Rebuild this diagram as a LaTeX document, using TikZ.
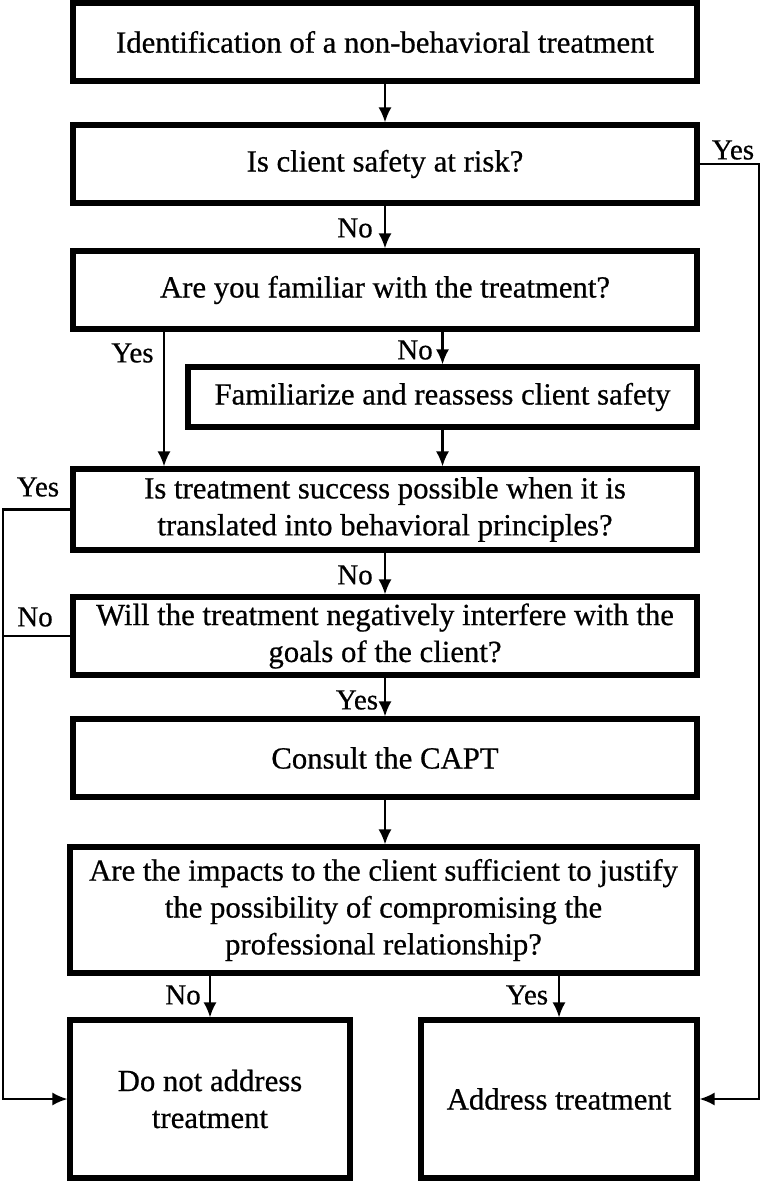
\documentclass[tikz,border=0pt]{standalone}
\usepackage{fontspec}
\setmainfont{Liberation Serif}[FakeBold=0.6]
\usetikzlibrary{arrows.meta}

\tikzset{
  stepbox/.style={draw, line width=2.9pt, inner sep=0pt, align=center,
    font=\fontsize{17.5}{21}\selectfont},
  flow/.style={line width=1.2pt, ->, >={Latex[length=0.3cm,width=0.26cm]}},
  answer/.style={font=\fontsize{16.5}{19}\selectfont}
}

\begin{document}
\begin{tikzpicture}
    \useasboundingbox (0,0) rectangle (15.24,-23.62);

    % Boxes
    \node[stepbox, minimum width=12.48cm, minimum height=1.56cm] (ident) at (7.70,-0.84) {Identification of a non-behavioral treatment};
    \node[stepbox, minimum width=12.48cm, minimum height=1.56cm] (safety) at (7.70,-3.28) {Is client safety at risk?};
    \node[stepbox, minimum width=12.48cm, minimum height=1.56cm] (familiar) at (7.70,-5.80) {Are you familiar with the treatment?};
    \node[stepbox, minimum width=10.18cm, minimum height=1.20cm] (reassess) at (8.85,-7.94) {Familiarize and reassess client safety};
    \node[stepbox, minimum width=12.48cm, minimum height=1.62cm] (success) at (7.70,-10.19) {Is treatment success possible when it is\\translated into behavioral principles?};
    \node[stepbox, minimum width=12.48cm, minimum height=1.56cm] (goals) at (7.70,-12.72) {Will the treatment negatively interfere with the\\goals of the client?};
    \node[stepbox, minimum width=12.48cm, minimum height=1.56cm] (capt) at (7.70,-15.16) {Consult the CAPT};
    \node[stepbox, minimum width=12.54cm, minimum height=2.52cm] (impacts) at (7.67,-18.20) {Are the impacts to the client sufficient to justify\\the possibility of compromising the\\professional relationship?};
    \node[stepbox, minimum width=5.60cm, minimum height=3.16cm] (noaddr) at (4.20,-21.98) {Do not address\\treatment};
    \node[stepbox, minimum width=5.52cm, minimum height=3.16cm] (addr) at (11.18,-21.98) {Address treatment};

    % Turning points
    \coordinate (yesdown) at (3.28,-5.80);
    \coordinate (leftrail) at (0.06,-10.19);
    \coordinate (rightrail) at (15.18,-3.28);

    % Main line
    \draw[flow] (ident) -- (safety);
    \draw[flow] (safety) -- (familiar);
    \draw[flow] (familiar.south -| reassess.north) -- (reassess.north);
    \draw[flow] (familiar.south -| yesdown) -- (success.north -| yesdown);
    \draw[flow] (reassess.south) -- (success.north -| reassess.south);
    \draw[flow] (success) -- (goals);
    \draw[flow] (goals) -- (capt);
    \draw[flow] (capt.south) -- (impacts.north -| capt.south);
    \draw[flow] (impacts.south -| noaddr.north) -- (noaddr.north);
    \draw[flow] (impacts.south -| addr.north) -- (addr.north);

    % Side rails
    \draw[flow] (safety.east) -- (rightrail) |- (addr.east);
    \draw[flow] (success.west) -- (leftrail) |- (noaddr.west);
    \draw[line width=1.2pt] (goals.west) -- (goals.west -| leftrail);

    % Answers
    \node[answer] (a1) at (14.66,-3.00) {Yes};
    \node[answer] (a2) at (7.10,-4.56) {No};
    \node[answer] (a3) at (2.65,-7.06) {Yes};
    \node[answer] (a4) at (8.30,-7.00) {No};
    \node[answer] (a5) at (0.76,-9.74) {Yes};
    \node[answer] (a6) at (7.10,-11.50) {No};
    \node[answer] (a7) at (0.70,-12.34) {No};
    \node[answer] (a8) at (7.14,-14.00) {Yes};
    \node[answer] (a9) at (3.66,-19.90) {No};
    \node[answer] (a10) at (10.54,-19.90) {Yes};
  \end{tikzpicture}
\end{document}
